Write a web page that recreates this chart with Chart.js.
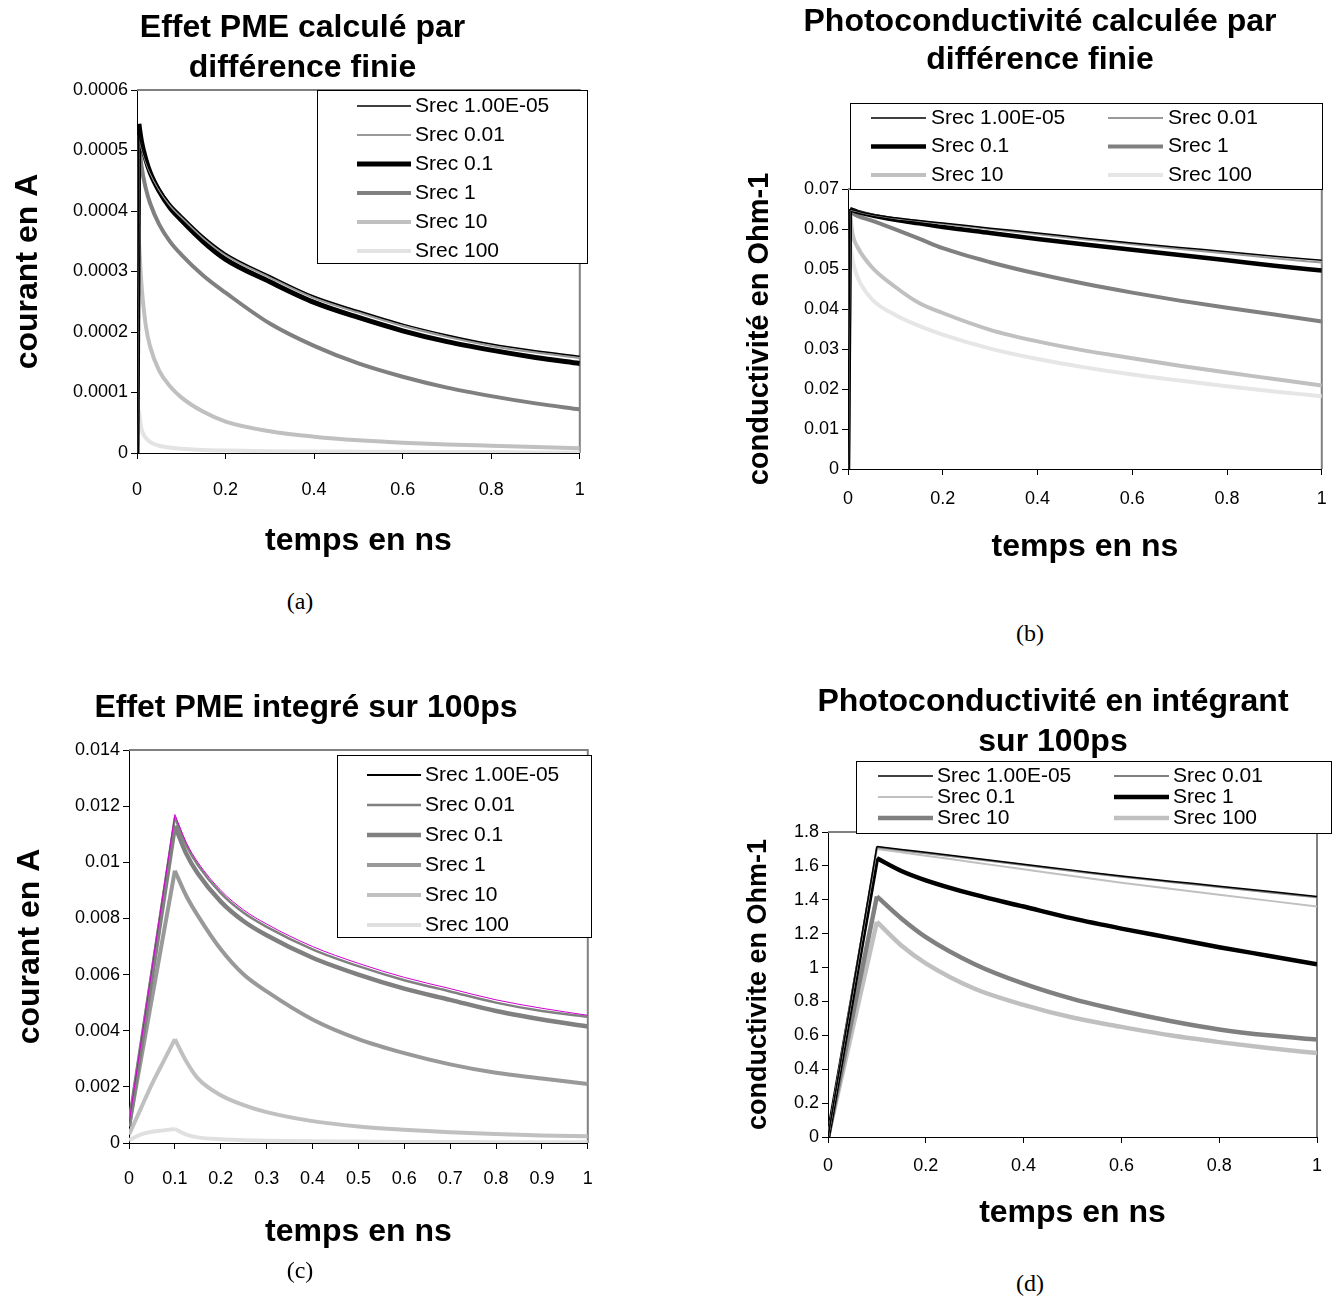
<!DOCTYPE html>
<html>
<head>
<meta charset="utf-8">
<script src="https://cdn.jsdelivr.net/npm/chart.js@4.4.1/dist/chart.umd.min.js"></script>
<style>
  html, body { margin: 0; padding: 0; background: #fff; }
  body { width: 1337px; height: 1308px; position: relative; overflow: hidden; }
  canvas { position: absolute; }
  .cap { position: absolute; font-family: "Liberation Serif", "Times New Roman", serif; font-size: 24px; color: #000; transform: translate(-50%, -50%); }
</style>
</head>
<body>
<canvas id="pa"></canvas>
<canvas id="pb"></canvas>
<canvas id="pc"></canvas>
<canvas id="pd"></canvas>
<div class="cap" style="left:300px;top:601px">(a)</div>
<div class="cap" style="left:1030px;top:633px">(b)</div>
<div class="cap" style="left:300px;top:1270px">(c)</div>
<div class="cap" style="left:1030px;top:1283px">(d)</div>
<script>
const FONT = '"Liberation Sans", Arial, Helvetica, sans-serif';
Chart.defaults.font.family = FONT;
Chart.defaults.color = '#000';

const labels = ['Srec 1.00E-05', 'Srec 0.01', 'Srec 0.1', 'Srec 1', 'Srec 10', 'Srec 100'];

// (a) courant PME, différence finie
const tA = [0, 0.004, 0.01, 0.02, 0.03, 0.05, 0.075, 0.1, 0.15, 0.2, 0.3, 0.4, 0.5, 0.6, 0.7, 0.8, 0.9, 1];
const a1e5 = [0, 0.00053, 0.000508, 0.000484, 0.000466, 0.000438, 0.000412, 0.000393, 0.000358, 0.00033, 0.000293, 0.000259, 0.000235, 0.000213, 0.000195, 0.00018, 0.000169, 0.00016];
const a001 = [0, 0.000525, 0.000505, 0.000481, 0.000463, 0.000435, 0.000409, 0.00039, 0.000355, 0.000327, 0.00029, 0.000256, 0.000232, 0.00021, 0.000192, 0.000177, 0.000166, 0.000157];
const a01 = [0, 0.000544, 0.000515, 0.000485, 0.000463, 0.000433, 0.000405, 0.000385, 0.000349, 0.00032, 0.000283, 0.000249, 0.000224, 0.000202, 0.000184, 0.00017, 0.000158, 0.000148];
const a1 = [0, 0.00052, 0.000475, 0.000437, 0.000412, 0.000378, 0.000349, 0.000328, 0.000293, 0.000265, 0.000214, 0.000177, 0.000148, 0.000126, 0.000108, 0.000094, 0.000082, 0.000072];
const a10 = [0, 0.000355, 0.00028, 0.00021, 0.000175, 0.000136, 0.00011, 0.000092, 0.000068, 0.000052, 0.000036, 0.000027, 0.000021, 0.000017, 0.000014, 0.000012, 0.00001, 0.000008];
const a100 = [0, 0.00007, 0.00004, 0.000025, 0.000018, 0.000012, 0.000009, 0.000007, 0.000005, 0.000004, 0.000003, 0.0000025, 0.000002, 0.000002, 0.0000015, 0.0000015, 0.000001, 0.000001];

// (b) photoconductivité, différence finie
const tB = [0, 0.004, 0.01, 0.02, 0.05, 0.1, 0.15, 0.2, 0.3, 0.4, 0.5, 0.6, 0.7, 0.8, 0.9, 1];
const b1e5 = [0, 0.065, 0.0648, 0.0645, 0.0637, 0.0628, 0.0621, 0.0615, 0.0602, 0.059, 0.0577, 0.0565, 0.0554, 0.0543, 0.0532, 0.0522];
const b001 = [0, 0.0649, 0.0647, 0.0644, 0.0636, 0.0627, 0.062, 0.0613, 0.06, 0.0587, 0.0574, 0.0562, 0.055, 0.0539, 0.0527, 0.0516];
const b01 = [0, 0.065, 0.0647, 0.0643, 0.0634, 0.0623, 0.0614, 0.0605, 0.059, 0.0575, 0.0561, 0.0548, 0.0535, 0.0522, 0.0508, 0.0496];
const b1 = [0, 0.0645, 0.0639, 0.0633, 0.0621, 0.0599, 0.0576, 0.0552, 0.0517, 0.0488, 0.0463, 0.0441, 0.0421, 0.0403, 0.0386, 0.0369];
const b10 = [0, 0.064, 0.0585, 0.0555, 0.0505, 0.0455, 0.0415, 0.039, 0.0348, 0.0319, 0.0296, 0.0277, 0.0258, 0.0241, 0.0225, 0.0209];
const b100 = [0, 0.057, 0.052, 0.048, 0.0425, 0.0385, 0.0358, 0.0336, 0.0301, 0.0275, 0.0254, 0.0236, 0.0221, 0.0207, 0.0194, 0.0182];

// (c) courant PME intégré sur 100ps (null = no sample on the straight rise)
const tC = [0, 0.025, 0.05, 0.075, 0.1, 0.125, 0.15, 0.2, 0.25, 0.3, 0.4, 0.5, 0.6, 0.7, 0.8, 0.9, 1];
const c1e5 = [0.0007, null, null, null, 0.0117, 0.0107, 0.01, 0.009, 0.0083, 0.0078, 0.007, 0.0064, 0.0059, 0.0055, 0.0051, 0.0048, 0.00455];
const c001 = [0.0007, null, null, null, 0.0116, 0.0106, 0.0099, 0.0089, 0.0082, 0.0077, 0.0069, 0.0063, 0.0058, 0.0054, 0.005, 0.0047, 0.0045];
const c01 = [0.0006, null, null, null, 0.0113, 0.0103, 0.0096, 0.0086, 0.0079, 0.0074, 0.0066, 0.006, 0.0055, 0.0051, 0.0047, 0.0044, 0.00415];
const c1 = [0.0006, null, null, null, 0.0097, 0.0088, 0.0081, 0.0069, 0.006, 0.0054, 0.0044, 0.0037, 0.0032, 0.0028, 0.0025, 0.0023, 0.0021];
const c10 = [0.0003, 0.0012, 0.0021, 0.0029, 0.0037, 0.0029, 0.0023, 0.0017, 0.00135, 0.0011, 0.00078, 0.00059, 0.00047, 0.00038, 0.00032, 0.00027, 0.00024];
const c100 = [0.0001, 0.0003, 0.0004, 0.00045, 0.0005, 0.0003, 0.0002, 0.00013, 0.0001, 0.00008, 0.00006, 0.00005, 0.00004, 0.00004, 0.00003, 0.00003, 0.00003];

// (d) photoconductivité intégrée sur 100ps
const tD = [0, 0.1, 0.15, 0.2, 0.3, 0.4, 0.5, 0.6, 0.7, 0.8, 0.9, 1];
const d1e5 = [0, 1.715, 1.697, 1.68, 1.645, 1.61, 1.575, 1.54, 1.51, 1.48, 1.45, 1.42];
const d001 = [0, 1.71, 1.692, 1.675, 1.64, 1.605, 1.57, 1.536, 1.505, 1.475, 1.445, 1.415];
const d01 = [0, 1.7, 1.68, 1.66, 1.62, 1.58, 1.54, 1.5, 1.465, 1.43, 1.395, 1.36];
const d1 = [0, 1.645, 1.57, 1.515, 1.43, 1.36, 1.29, 1.23, 1.175, 1.12, 1.07, 1.02];
const d10 = [0, 1.42, 1.29, 1.18, 1.02, 0.905, 0.815, 0.745, 0.685, 0.635, 0.6, 0.575];
const d100 = [0, 1.27, 1.13, 1.025, 0.875, 0.78, 0.705, 0.65, 0.6, 0.56, 0.525, 0.495];

function fmt(v) {
  if (Math.abs(v) < 1e-12) return '0';
  return String(parseFloat(Number(v).toFixed(6)));
}

// gray top/right edge of the plot area
const frame = {
  id: 'frame',
  beforeDatasetsDraw(chart, args, o) {
    const { ctx, chartArea: a } = chart;
    ctx.save();
    ctx.strokeStyle = o.color;
    ctx.lineWidth = o.width;
    ctx.beginPath();
    ctx.moveTo(a.left, a.top);
    ctx.lineTo(a.right, a.top);
    ctx.lineTo(a.right, a.bottom);
    ctx.stroke();
    ctx.restore();
  }
};

// boxed legend placed over the plot, like the original
const boxLegend = {
  id: 'boxLegend',
  afterDatasetsDraw(chart, args, o) {
    const ctx = chart.ctx;
    ctx.save();
    ctx.fillStyle = '#fff';
    ctx.fillRect(o.x, o.y, o.w, o.h);
    ctx.strokeStyle = '#000';
    ctx.lineWidth = 1;
    ctx.strokeRect(o.x + 0.5, o.y + 0.5, o.w, o.h);
    ctx.font = o.size + 'px ' + FONT;
    ctx.textBaseline = 'middle';
    chart.data.datasets.filter(ds => !ds.rise).forEach((ds, i) => {
      const col = i % o.cols, row = Math.floor(i / o.cols);
      const y = o.y0 + row * o.dy, dx = col * o.colW;
      ctx.strokeStyle = ds.legendColor || ds.borderColor;
      ctx.lineWidth = ds.legendWidth || ds.borderWidth;
      ctx.beginPath();
      ctx.moveTo(o.lx0 + dx, y);
      ctx.lineTo(o.lx1 + dx, y);
      ctx.stroke();
      ctx.fillStyle = '#000';
      ctx.fillText(ds.label, o.tx + dx, y);
    });
    ctx.restore();
  }
};

// each series is drawn as its rise (up to the maximum) and its smooth decay
function seriesToDatasets(t, s, i) {
  const pts = t.map((x, k) => ({ x: x, y: s.v[k] })).filter(p => p.y !== null);
  let peak = 0;
  pts.forEach((p, k) => { if (p.y > pts[peak].y) peak = k; });
  const base = {
    borderColor: s.c, borderWidth: s.w, pointRadius: 0, fill: false,
    cubicInterpolationMode: 'monotone', borderJoinStyle: 'round'
  };
  return [
    Object.assign({}, base, { label: labels[i], data: pts.slice(peak), legendColor: s.lc, legendWidth: s.lw }),
    Object.assign({}, base, { label: labels[i] + ' montée', data: pts.slice(0, peak + 1), rise: true })
  ];
}

function panel(id, p) {
  const cv = document.getElementById(id);
  const W = p.box.w, H = p.box.h;
  cv.width = W; cv.height = H;
  cv.style.left = p.box.x + 'px'; cv.style.top = p.box.y + 'px';
  cv.style.width = W + 'px'; cv.style.height = H + 'px';

  const n = p.title.length;
  const tPadTop = p.titleY - p.box.y - p.titleLh / 2;
  const tPadBot = p.area.t - p.box.y - tPadTop - n * p.titleLh;
  const yLh = p.yTitleSize * 1.2, xLh = p.xTitleSize * 1.2, tickLh = p.tickSize * 1.2;
  const L = p.legend;
  const leg = Object.assign({}, L, {
    x: L.x - p.box.x, y: L.y - p.box.y, y0: L.y0 - p.box.y,
    lx0: L.lx0 - p.box.x, lx1: L.lx1 - p.box.x, tx: L.tx - p.box.x
  });

  return new Chart(cv, {
    type: 'line',
    data: { datasets: p.series.flatMap((s, i) => seriesToDatasets(p.t, s, i)) },
    options: {
      responsive: false,
      animation: false,
      devicePixelRatio: 1,
      events: [],
      layout: { padding: 0 },
      plugins: {
        legend: { display: false },
        tooltip: { enabled: false },
        title: {
          display: true, text: p.title, color: '#000',
          font: { size: p.titleSize, weight: 'bold', lineHeight: p.titleLh / p.titleSize },
          padding: { top: tPadTop, bottom: tPadBot }
        },
        frame: { color: '#808080', width: 2 },
        boxLegend: leg
      },
      scales: {
        x: {
          type: 'linear', position: 'bottom', min: 0, max: 1,
          afterFit: s => { s.height = p.box.y + H - p.area.b; },
          ticks: {
            stepSize: p.xStep, callback: fmt, autoSkip: false, maxRotation: 0,
            font: { size: p.tickSize }, color: '#000',
            padding: p.xTickY - p.area.b - 6 - tickLh / 2
          },
          grid: { display: true, drawOnChartArea: false, drawTicks: true, tickLength: 6, color: '#000' },
          border: { display: true, color: '#000', width: 1 },
          title: {
            display: true, text: 'temps en ns', color: '#000',
            font: { size: p.xTitleSize, weight: 'bold' },
            padding: { top: 0, bottom: p.box.y + H - p.xTitleY - xLh / 2 }
          }
        },
        y: {
          type: 'linear', position: 'left', min: 0, max: p.yMax,
          afterFit: s => { s.width = p.area.l - p.box.x; },
          ticks: { stepSize: p.yStep, callback: fmt, font: { size: p.tickSize }, color: '#000', padding: 3 },
          grid: { display: true, drawOnChartArea: false, drawTicks: true, tickLength: 6, color: '#000' },
          border: { display: true, color: '#000', width: 1 },
          title: {
            display: true, text: p.yTitle, color: '#000',
            font: { size: p.yTitleSize, weight: 'bold' },
            padding: { top: p.yTitleX - p.box.x - yLh / 2, bottom: 0 }
          }
        },
        yRight: {
          type: 'linear', axis: 'y', position: 'right', display: true,
          afterFit: s => { s.width = p.box.x + W - p.area.r; },
          ticks: { display: false },
          grid: { display: false },
          border: { display: false }
        }
      }
    },
    plugins: [frame, boxLegend]
  });
}

panel('pa', {
  box: { x: 0, y: 0, w: 605, h: 570 },
  area: { l: 137, t: 90, r: 584, b: 453 },
  title: ['Effet PME calculé par', 'différence finie'], titleY: 28, titleLh: 40, titleSize: 32,
  yTitle: 'courant en A', yTitleX: 28, yTitleSize: 32,
  xTitleY: 541, xTitleSize: 32, xTickY: 490, tickSize: 18,
  yMax: 0.0006, yStep: 0.0001, xStep: 0.2,
  t: tA,
  series: [
    { v: a1e5, c: '#000000', w: 1.5 },
    { v: a001, c: '#999999', w: 2 },
    { v: a01, c: '#000000', w: 5 },
    { v: a1, c: '#808080', w: 4 },
    { v: a10, c: '#c0c0c0', w: 4 },
    { v: a100, c: '#e3e3e3', w: 4 }
  ],
  legend: { x: 317, y: 90, w: 270, h: 173, cols: 1, colW: 0, y0: 106, dy: 29, lx0: 357, lx1: 411, tx: 415, size: 21 }
});

panel('pb', {
  box: { x: 740, y: 0, w: 600, h: 580 },
  area: { l: 848, t: 189, r: 1323, b: 469 },
  title: ['Photoconductivité calculée par', 'différence finie'], titleY: 22, titleLh: 38, titleSize: 32,
  yTitle: 'conductivité en Ohm-1', yTitleX: 760, yTitleSize: 29,
  xTitleY: 547, xTitleSize: 32, xTickY: 499, tickSize: 18,
  yMax: 0.07, yStep: 0.01, xStep: 0.2,
  t: tB,
  series: [
    { v: b1e5, c: '#000000', w: 1.5 },
    { v: b001, c: '#999999', w: 2 },
    { v: b01, c: '#000000', w: 4.5 },
    { v: b1, c: '#808080', w: 4 },
    { v: b10, c: '#c0c0c0', w: 4 },
    { v: b100, c: '#e6e6e6', w: 4 }
  ],
  legend: { x: 850, y: 103, w: 472, h: 86, cols: 2, colW: 237, y0: 118, dy: 28.5, lx0: 871, lx1: 926, tx: 931, size: 21 }
});

panel('pc', {
  box: { x: 0, y: 680, w: 612, h: 580 },
  area: { l: 129, t: 750, r: 596, b: 1143 },
  title: ['Effet PME integré sur 100ps'], titleY: 708, titleLh: 38, titleSize: 32,
  yTitle: 'courant en A', yTitleX: 30, yTitleSize: 32,
  xTitleY: 1232, xTitleSize: 32, xTickY: 1179, tickSize: 18,
  yMax: 0.014, yStep: 0.002, xStep: 0.1,
  t: tC,
  series: [
    { v: c1e5, c: '#d000d0', w: 1, lc: '#000000', lw: 2 },
    { v: c001, c: '#808080', w: 2.5 },
    { v: c01, c: '#808080', w: 4.5 },
    { v: c1, c: '#999999', w: 4 },
    { v: c10, c: '#c0c0c0', w: 4 },
    { v: c100, c: '#e0e0e0', w: 4 }
  ],
  legend: { x: 337, y: 755, w: 254, h: 182, cols: 1, colW: 0, y0: 775, dy: 30, lx0: 367, lx1: 421, tx: 425, size: 21 }
});

panel('pd', {
  box: { x: 740, y: 680, w: 626, h: 560 },
  area: { l: 828, t: 832, r: 1317, b: 1137 },
  title: ['Photoconductivité en intégrant', 'sur 100ps'], titleY: 702, titleLh: 40, titleSize: 32,
  yTitle: 'conductivite en Ohm-1', yTitleX: 759, yTitleSize: 27,
  xTitleY: 1213, xTitleSize: 32, xTickY: 1166, tickSize: 18,
  yMax: 1.8, yStep: 0.2, xStep: 0.2,
  t: tD,
  series: [
    { v: d1e5, c: '#000000', w: 1.5 },
    { v: d001, c: '#808080', w: 2 },
    { v: d01, c: '#c0c0c0', w: 2 },
    { v: d1, c: '#000000', w: 4.5 },
    { v: d10, c: '#808080', w: 4.5 },
    { v: d100, c: '#c0c0c0', w: 4.5 }
  ],
  legend: { x: 856, y: 761, w: 475, h: 72, cols: 2, colW: 236, y0: 776, dy: 21, lx0: 878, lx1: 933, tx: 937, size: 21 }
});
</script>
</body>
</html>
